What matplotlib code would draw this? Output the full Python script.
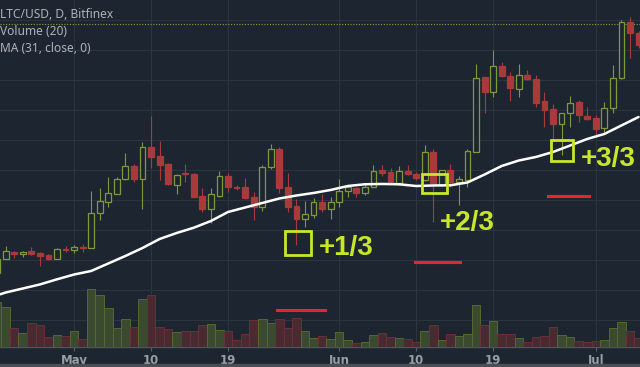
import numpy as np
import pandas as pd
import matplotlib
matplotlib.use("Agg")
import matplotlib.pyplot as plt
import matplotlib.dates as mdates
from matplotlib.patches import Rectangle

# daily LTC/USD candles, 22 Apr - 6 Jul 2017
first_day = "2017-04-22"
opens = [12.83, 15.17, 16.33, 16.0, 16.5, 16.17, 15.83, 15.17, 16.83, 16.67,
         17.17, 17.0, 22.83, 24.67, 26.0, 28.5, 30.67, 28.5, 33.83, 32.33,
         31.0, 27.5, 29.5, 29.33, 25.67, 23.5, 25.67, 29.0, 27.17, 27.17,
         25.5, 23.83, 30.5, 33.5, 27.17, 24.0, 21.83, 22.5, 24.67, 23.5,
         24.67, 26.5, 27.0, 26.17, 27.17, 30.0, 29.67, 27.83, 29.83, 29.33,
         28.33, 33.0, 27.5, 30.0, 28.0, 28.33, 33.0, 45.5, 43.0, 47.33,
         45.67, 43.5, 45.83, 45.17, 41.5, 40.17, 37.67, 39.5, 41.33, 39.0,
         38.67, 37.0, 40.33, 45.33, 54.67, 52.83]
closes = [15.17, 16.5, 16.0, 16.33, 16.0, 15.67, 15.17, 16.83, 16.67, 17.17,
          17.0, 22.83, 24.83, 26.17, 28.5, 30.67, 28.5, 33.83, 32.17, 30.83,
          27.67, 29.17, 29.33, 25.5, 23.5, 26.0, 29.0, 27.17, 27.0, 25.33,
          23.83, 30.5, 33.5, 27.0, 23.83, 21.83, 22.67, 24.67, 23.5, 24.67,
          26.5, 27.17, 26.17, 27.17, 29.83, 29.5, 27.83, 29.83, 29.33, 28.67,
          33.0, 27.83, 30.0, 28.0, 28.5, 33.17, 45.33, 43.0, 47.33, 45.67,
          43.67, 45.83, 45.17, 41.17, 40.0, 37.67, 39.5, 41.17, 39.17, 38.5,
          36.83, 40.33, 45.33, 54.67, 52.83, 50.83]
highs = [15.5, 17.33, 16.5, 16.5, 17.17, 16.33, 16.0, 17.0, 17.33, 17.5,
         17.67, 26.5, 27.0, 28.83, 28.83, 32.83, 31.0, 34.67, 39.0, 34.83,
         31.17, 29.33, 31.0, 29.5, 27.0, 27.0, 29.83, 29.5, 27.5, 28.67,
         26.33, 30.83, 34.33, 33.83, 29.5, 25.17, 24.83, 25.33, 26.0, 25.5,
         28.5, 27.5, 27.17, 27.67, 30.83, 30.83, 30.33, 30.67, 30.83, 29.67,
         34.17, 33.5, 30.0, 31.0, 29.0, 33.5, 47.67, 45.5, 50.0, 48.0,
         46.33, 47.67, 46.67, 45.83, 43.0, 41.0, 39.5, 42.33, 41.67, 40.5,
         39.17, 41.33, 47.5, 55.0, 55.5, 53.17]
lows = [12.5, 15.17, 15.33, 15.5, 15.83, 14.0, 15.0, 15.17, 16.33, 16.17,
        16.33, 17.0, 21.67, 23.83, 26.0, 28.33, 28.0, 23.5, 30.33, 28.33,
        27.5, 26.0, 28.0, 25.5, 23.0, 21.17, 25.5, 26.33, 26.67, 25.17,
        21.67, 23.17, 30.17, 26.17, 23.0, 17.5, 20.5, 22.0, 23.0, 21.83,
        23.83, 25.5, 25.5, 25.83, 27.17, 29.0, 27.67, 27.5, 29.17, 28.33,
        28.17, 21.33, 27.33, 27.17, 24.17, 27.17, 33.0, 39.5, 42.17, 45.5,
        41.5, 42.17, 45.0, 40.5, 37.17, 35.0, 32.5, 37.17, 38.0, 38.33,
        35.5, 36.33, 39.5, 45.17, 48.67, 50.33]
volume = [44.7, 40.3, 18.7, 14.3, 23.7, 21.7, 10.3, 12.3, 11, 16.3,
          7.7, 57.7, 52, 38.7, 18.7, 27.7, 19.7, 48, 52, 19.7,
          17.7, 15, 16.3, 16.3, 21.7, 23, 17, 16, 7, 13,
          26.7, 27.7, 23.7, 27.7, 19, 29, 15.7, 8.7, 11.3, 8,
          15.3, 7, 3.7, 5, 12.3, 13.7, 9.7, 8.7, 7.7, 5,
          16, 22, 7, 12.7, 11.3, 13, 41.7, 22, 26, 12.7,
          13.3, 8.7, 5, 9.7, 11, 20.3, 12, 9.7, 6.3, 5.3,
          6.3, 7, 18.7, 25.3, 16.3, 8.7]

# MA(31), days counted from 1 May
ma_days = [-9, -8, -6, -4, -2, 0, 2, 4, 6, 8, 10, 12, 14, 16, 18, 20, 22, 24,
           26, 28, 30, 32, 34, 36, 38, 40, 42, 44, 46, 48, 50, 52, 54, 56, 58,
           60, 62, 64, 66]
ma_values = [9.12, 9.58, 10.25, 10.92, 11.78, 12.58, 13.17, 14.42, 15.67, 17.0,
             18.5, 19.5, 20.38, 21.5, 23.0, 23.75, 24.5, 25.25, 25.75, 26.17,
             26.67, 27.33, 27.62, 27.67, 27.62, 27.33, 27.42, 27.45, 27.92,
             29.25, 30.67, 31.58, 32.17, 33.0, 34.08, 35.17, 36.0, 37.42, 38.83]
last_price = 54.33

tick_dates = ["2017-05-01", "2017-05-10", "2017-05-19", "2017-06-01",
              "2017-06-10", "2017-06-19", "2017-07-01"]
tick_labels = ["May", "10", "19", "Jun", "10", "19", "Jul"]

# annotations (days from 1 May, price)
box_days = [26.2, 42.15, 57.05]
box_prices = [17.86, 27.72, 33.27]
box_w = [3.1, 3.0, 2.65]
box_h = [4.05, 3.2, 3.45]
gain_labels = ["+1/3", "+2/3", "+3/3"]
label_days = [28.64, 42.78, 59.24]
label_prices = [15.83, 20.0, 30.72]
stop_start = [23.76, 39.86, 55.45]
stop_end = [29.34, 45.18, 60.24]
stop_prices = [6.72, 14.67, 25.67]

BG = "#1d2630"
GRID = "#2b3540"
UP = "#7f9839"
DOWN = "#a83a3c"
MARK = "#c8e62a"

dates = pd.date_range(first_day, periods=len(opens), freq="D")
x = mdates.date2num(dates)
may1 = mdates.date2num(pd.Timestamp("2017-05-01"))

o = np.array(opens)
c = np.array(closes)
up = c >= o

fig = plt.figure(figsize=(6.4, 3.67), dpi=100, facecolor=BG)
ax = fig.add_axes([0, 20 / 367, 1, 347 / 367], facecolor=BG)

# volume pane on its own scale
vax = ax.twinx()
vax.set_ylim(0, 347)
vax.bar(x, volume, width=1.0,
        color=np.where(up, "#3a4a2e", "#4a2a31"),
        edgecolor=np.where(up, "#56682f", "#683038"), lw=0.7)
vax.set_axis_off()

# candles
ax.vlines(x, lows, highs, colors=np.where(up, UP, DOWN), lw=0.8, zorder=3)
body_low = np.minimum(o, c)
body_h = np.maximum(np.abs(c - o), 0.15)
ax.bar(x, body_h, bottom=body_low, width=0.68,
       color=np.where(up, BG, DOWN), edgecolor=np.where(up, UP, DOWN),
       lw=0.9, zorder=4)

ma_x = may1 + np.array(ma_days)
ax.plot(ma_x, ma_values, color="white", lw=1.8, zorder=5, solid_capstyle="round")

ax.axhline(last_price, color="#8e9d3e", lw=0.8, ls=(0, (1, 1.5)), zorder=2)

# trade annotations
for d, p, w, h in zip(box_days, box_prices, box_w, box_h):
    ax.add_patch(Rectangle((may1 + d - w / 2, p - h / 2), w, h, fill=False,
                           edgecolor=MARK, lw=2.0, zorder=6))
for d, p, s in zip(label_days, label_prices, gain_labels):
    ax.text(may1 + d, p, s, color=MARK, fontsize=20, fontweight="bold",
            family="Liberation Sans", va="baseline", ha="left", zorder=6)
for a, b, p in zip(stop_start, stop_end, stop_prices):
    ax.plot([may1 + a, may1 + b], [p, p], color="#e8262a", lw=2.2, zorder=6)

ax.set_xlim(may1 - 8.66, may1 + 66.17)
ax.set_ylim(0.5, 58.33)
ax.set_yticks(np.arange(5, 60, 5))
ax.set_xticks(mdates.date2num(pd.to_datetime(tick_dates)))
ax.set_xticklabels(tick_labels)
ax.grid(color=GRID, lw=0.8, zorder=0)
ax.set_axisbelow(True)
ax.tick_params(axis="y", length=0, labelleft=False)
ax.tick_params(axis="x", colors="#5b616a", length=3, width=0.8, pad=2,
               labelsize=8.5, labelcolor="#9a9da4")
for t in ax.get_xticklabels():
    t.set_fontweight("bold")
for side in ["top", "left", "right"]:
    ax.spines[side].set_visible(False)
ax.spines["bottom"].set_color("#4e5560")
ax.spines["bottom"].set_linewidth(1.0)

fig.add_artist(Rectangle((0, 0), 1, 3.5 / 367, transform=fig.transFigure,
                         color="#4a4f57"))

header = ["LTC/USD, D, Bitfinex", "Volume (20)", "MA (31, close, 0)"]
for i, s in enumerate(header):
    fig.text(0.5 / 640, 1 - (15 + 16.5 * i) / 367, s, color="#aeb1b7",
             fontsize=8.6, family="Noto Sans", va="center", ha="left")

fig.savefig("out.png", dpi=100, facecolor=BG)
